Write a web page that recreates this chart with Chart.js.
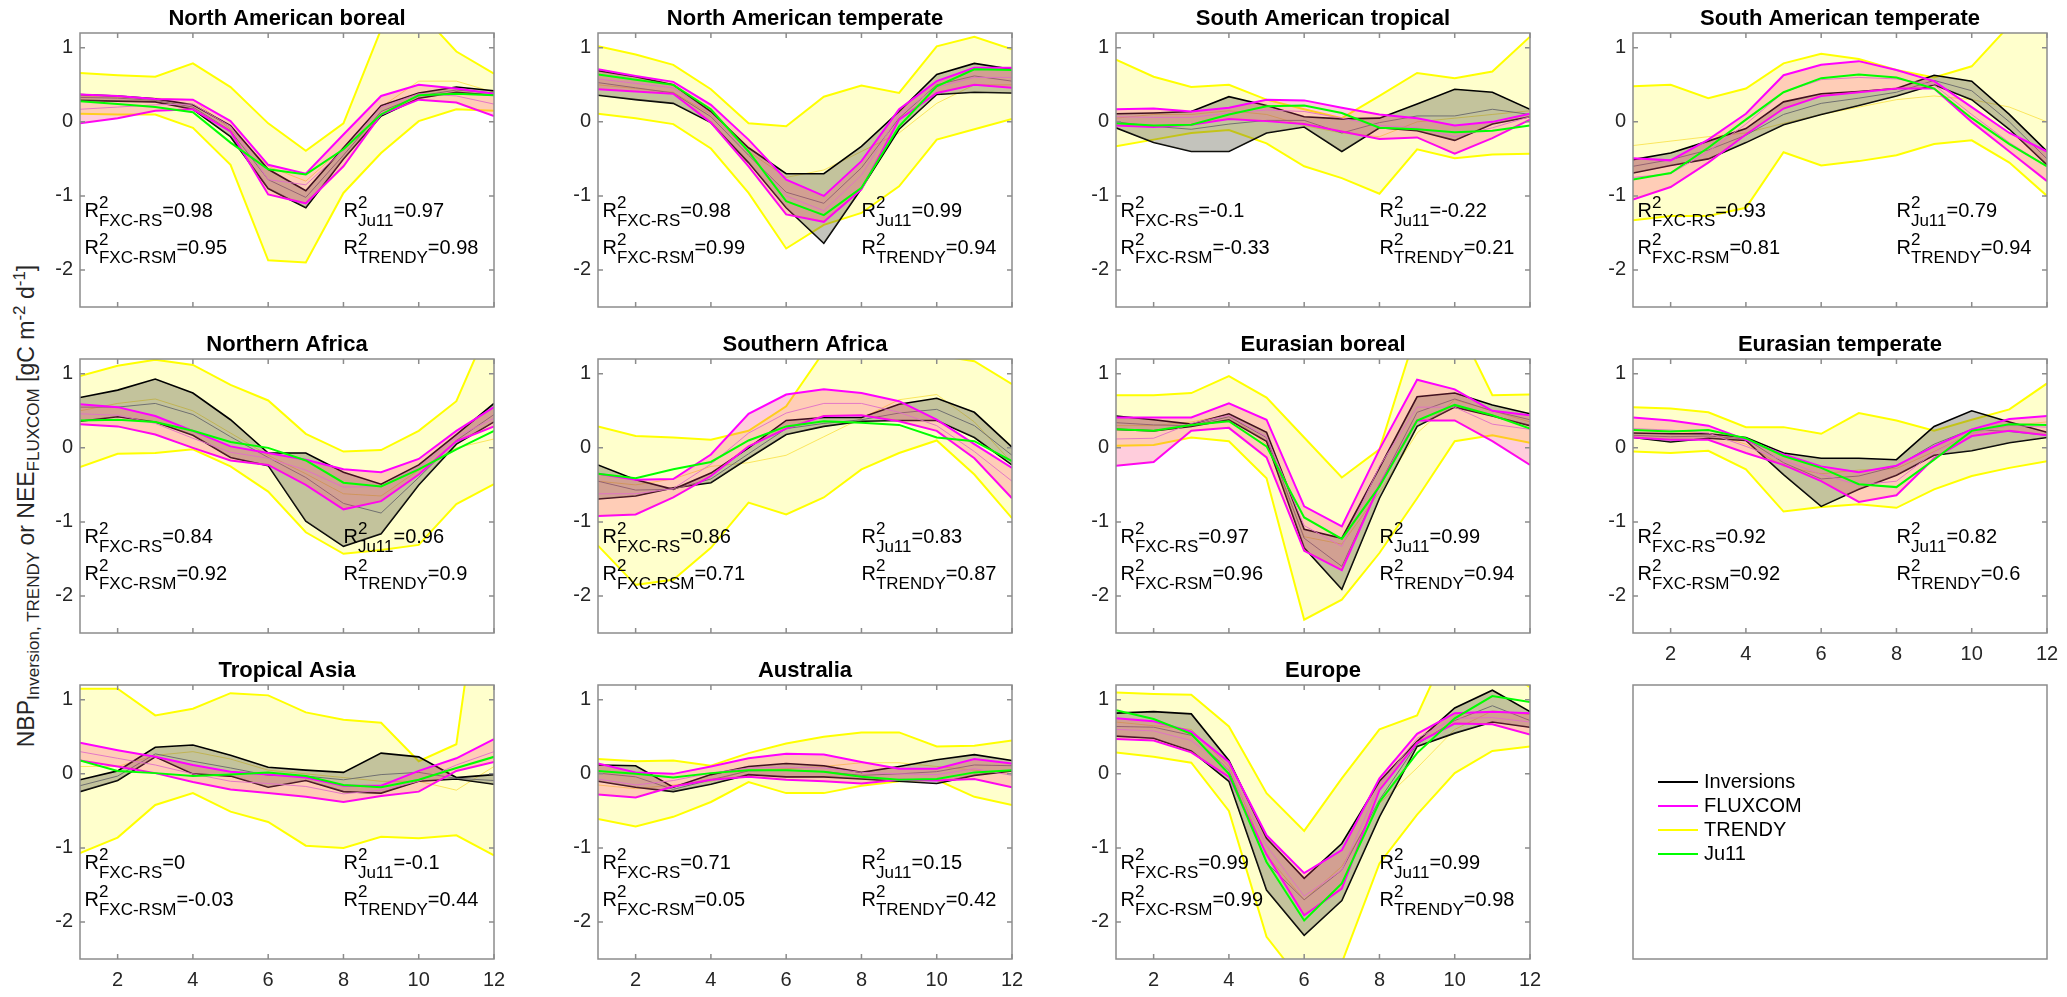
<!DOCTYPE html>
<html>
<head>
<meta charset="utf-8">
<script src="https://cdn.jsdelivr.net/npm/chart.js@4.4.0/dist/chart.umd.min.js"></script>
<style>
  html, body { margin: 0; padding: 0; background: #fff; }
  body { width: 2067px; height: 997px; position: relative; overflow: hidden; font-family: 'Liberation Sans', Arial, sans-serif; }
  canvas { position: absolute; }
  #ylabel { position: absolute; left: 27px; top: 506px; transform: translate(-50%, -50%) rotate(-90deg);
            white-space: nowrap; font-size: 23px; color: #262626; line-height: 26px; }
  #ylabel sub, #ylabel sup { font-size: 17px; }
</style>
</head>
<body>
<div id="ylabel">NBP<sub>Inversion, TRENDY</sub> or NEE<sub>FLUXCOM</sub> [gC m<sup>-2</sup> d<sup>-1</sup>]</div>
<script>
// ---- data (monthly mean fluxes, gC m-2 d-1) ----
const months = [1, 2, 3, 4, 5, 6, 7, 8, 9, 10, 11, 12];
const xTicks = [2, 4, 6, 8, 10, 12];
const yTicks = [-2, -1, 0, 1];

const regions = ['North American boreal', 'North American temperate', 'South American tropical', 'South American temperate',
                 'Northern Africa', 'Southern Africa', 'Eurasian boreal', 'Eurasian temperate',
                 'Tropical Asia', 'Australia', 'Europe'];

// Inversions spread (upper / lower) and mean
const invHi = [
  [0.37, 0.35, 0.31, 0.23, -0.05, -0.64, -0.93, -0.35, 0.22, 0.39, 0.47, 0.42],
  [0.69, 0.61, 0.50, 0.14, -0.35, -0.70, -0.70, -0.33, 0.14, 0.64, 0.79, 0.71],
  [0.11, 0.12, 0.14, 0.34, 0.22, 0.07, 0.04, 0.05, 0.24, 0.44, 0.40, 0.17],
  [-0.51, -0.42, -0.26, -0.09, 0.27, 0.38, 0.41, 0.45, 0.63, 0.55, 0.10, -0.40],
  [0.68, 0.78, 0.93, 0.74, 0.38, -0.07, -0.07, -0.33, -0.49, -0.23, 0.18, 0.60],
  [-0.23, -0.43, -0.56, -0.34, 0.00, 0.37, 0.41, 0.41, 0.59, 0.67, 0.48, 0.01],
  [0.43, 0.38, 0.32, 0.46, 0.21, -1.10, -1.22, -0.27, 0.69, 0.74, 0.58, 0.46],
  [0.20, 0.19, 0.19, 0.14, -0.07, -0.14, -0.14, -0.16, 0.29, 0.50, 0.35, 0.21],
  [-0.08, 0.04, 0.36, 0.39, 0.25, 0.09, 0.05, 0.02, 0.28, 0.23, -0.05, -0.01],
  [0.12, 0.11, -0.18, -0.01, 0.10, 0.14, 0.11, 0.02, 0.10, 0.19, 0.26, 0.18],
  [0.82, 0.84, 0.81, 0.18, -0.87, -1.41, -0.94, -0.10, 0.44, 0.89, 1.13, 0.84]
];
const invLo = [
  [0.29, 0.28, 0.27, 0.17, -0.20, -0.90, -1.16, -0.50, 0.08, 0.32, 0.40, 0.36],
  [0.36, 0.30, 0.25, -0.01, -0.55, -1.16, -1.64, -0.90, -0.10, 0.37, 0.40, 0.39],
  [-0.08, -0.28, -0.40, -0.40, -0.15, -0.07, -0.40, -0.08, -0.12, -0.25, -0.03, 0.07],
  [-0.69, -0.59, -0.50, -0.28, -0.04, 0.10, 0.22, 0.35, 0.50, 0.30, -0.10, -0.58],
  [0.36, 0.42, 0.35, 0.17, -0.13, -0.24, -0.99, -1.33, -1.16, -0.50, 0.05, 0.35],
  [-0.69, -0.65, -0.54, -0.47, -0.14, 0.18, 0.29, 0.36, 0.37, 0.37, 0.14, -0.23],
  [0.25, 0.23, 0.29, 0.38, 0.09, -1.35, -1.91, -0.68, 0.29, 0.55, 0.43, 0.30],
  [0.14, 0.08, 0.13, 0.10, -0.36, -0.79, -0.56, -0.37, -0.10, -0.04, 0.07, 0.14],
  [-0.24, -0.09, 0.23, 0.00, -0.03, -0.18, -0.09, -0.24, -0.26, -0.10, -0.07, -0.14],
  [-0.10, -0.18, -0.24, -0.14, -0.01, -0.04, -0.04, -0.07, -0.10, -0.13, -0.02, 0.04],
  [0.51, 0.48, 0.31, -0.10, -1.57, -2.18, -1.71, -0.58, 0.37, 0.55, 0.70, 0.63]
];
const invMean = [
  [0.33, 0.32, 0.29, 0.20, -0.12, -0.78, -1.02, -0.45, 0.14, 0.35, 0.43, 0.39],
  [0.53, 0.46, 0.39, 0.07, -0.45, -0.95, -1.10, -0.62, 0.05, 0.50, 0.62, 0.55],
  [0.00, -0.06, -0.10, -0.03, 0.02, 0.02, -0.15, -0.01, 0.08, 0.08, 0.17, 0.10],
  [-0.60, -0.51, -0.38, -0.18, 0.10, 0.25, 0.32, 0.40, 0.56, 0.42, 0.00, -0.50],
  [0.55, 0.55, 0.60, 0.45, 0.15, -0.13, -0.40, -0.75, -0.88, -0.40, 0.10, 0.45],
  [-0.45, -0.57, -0.56, -0.42, -0.08, 0.26, 0.33, 0.38, 0.47, 0.52, 0.30, -0.10],
  [0.34, 0.31, 0.30, 0.42, 0.14, -1.22, -1.60, -0.50, 0.48, 0.66, 0.50, 0.38],
  [0.17, 0.15, 0.16, 0.12, -0.20, -0.42, -0.38, -0.25, 0.05, 0.25, 0.22, 0.17],
  [-0.16, -0.03, 0.27, 0.17, 0.08, -0.02, -0.03, -0.08, -0.01, 0.02, -0.06, -0.09],
  [0.01, -0.04, -0.21, -0.08, 0.04, 0.05, 0.03, -0.02, 0.00, 0.03, 0.12, 0.11],
  [0.64, 0.63, 0.52, 0.05, -1.20, -1.70, -1.30, -0.35, 0.40, 0.72, 0.92, 0.72]
];

// FLUXCOM spread and mean
const fxHi = [
  [0.37, 0.35, 0.31, 0.30, 0.01, -0.58, -0.70, -0.17, 0.35, 0.50, 0.45, 0.38],
  [0.71, 0.62, 0.54, 0.23, -0.24, -0.78, -1.00, -0.53, 0.17, 0.55, 0.73, 0.73],
  [0.17, 0.18, 0.14, 0.19, 0.30, 0.29, 0.19, 0.10, 0.05, -0.05, 0.00, 0.11],
  [-0.49, -0.52, -0.24, 0.11, 0.63, 0.77, 0.82, 0.70, 0.55, 0.20, -0.15, -0.40],
  [0.59, 0.55, 0.43, 0.23, 0.02, -0.07, -0.16, -0.29, -0.33, -0.15, 0.23, 0.55],
  [-0.35, -0.43, -0.42, -0.09, 0.46, 0.72, 0.79, 0.74, 0.63, 0.38, 0.05, -0.27],
  [0.41, 0.41, 0.41, 0.60, 0.38, -0.79, -1.06, -0.02, 0.92, 0.79, 0.50, 0.44],
  [0.41, 0.37, 0.30, 0.11, -0.09, -0.25, -0.33, -0.24, 0.02, 0.25, 0.39, 0.43],
  [0.42, 0.32, 0.23, 0.12, 0.03, -0.01, -0.05, -0.16, -0.16, 0.04, 0.21, 0.47],
  [0.14, 0.02, 0.00, 0.10, 0.21, 0.27, 0.26, 0.16, 0.07, 0.07, 0.20, 0.14],
  [0.75, 0.71, 0.57, 0.16, -0.83, -1.34, -1.03, -0.06, 0.54, 0.82, 0.84, 0.82]
];
const fxLo = [
  [-0.02, 0.05, 0.15, 0.17, -0.13, -0.98, -1.10, -0.60, 0.10, 0.30, 0.26, 0.08],
  [0.44, 0.41, 0.38, -0.01, -0.60, -1.25, -1.35, -0.91, 0.03, 0.39, 0.50, 0.46],
  [-0.05, -0.07, -0.04, 0.04, 0.01, -0.03, -0.13, -0.23, -0.21, -0.43, -0.22, 0.03],
  [-1.05, -0.88, -0.55, -0.17, 0.18, 0.35, 0.40, 0.45, 0.45, 0.00, -0.40, -0.80],
  [0.32, 0.29, 0.18, 0.00, -0.17, -0.23, -0.50, -0.83, -0.72, -0.36, 0.09, 0.29],
  [-0.92, -0.90, -0.67, -0.38, 0.02, 0.26, 0.43, 0.44, 0.36, 0.23, -0.14, -0.68],
  [-0.24, -0.19, 0.23, 0.27, -0.13, -1.39, -1.65, -0.50, 0.37, 0.37, 0.09, -0.23],
  [0.14, 0.11, 0.11, -0.07, -0.23, -0.45, -0.73, -0.64, -0.14, 0.16, 0.23, 0.17],
  [0.18, 0.10, 0.01, -0.11, -0.21, -0.26, -0.31, -0.38, -0.30, -0.24, 0.04, 0.16],
  [-0.28, -0.32, -0.17, -0.08, -0.04, -0.08, -0.10, -0.13, -0.08, -0.09, -0.07, -0.18],
  [0.47, 0.45, 0.29, -0.04, -1.09, -1.91, -1.55, -0.22, 0.42, 0.68, 0.67, 0.53]
];
const fxMean = [
  [0.17, 0.20, 0.23, 0.24, -0.06, -0.78, -0.85, -0.38, 0.20, 0.38, 0.35, 0.24],
  [0.58, 0.52, 0.46, 0.11, -0.42, -1.00, -1.20, -0.72, 0.10, 0.47, 0.60, 0.60],
  [0.07, 0.06, 0.06, 0.12, 0.16, 0.14, 0.05, -0.05, -0.08, -0.20, -0.08, 0.07],
  [-0.75, -0.70, -0.40, -0.03, 0.40, 0.57, 0.60, 0.58, 0.50, 0.10, -0.28, -0.60],
  [0.46, 0.44, 0.33, 0.13, -0.06, -0.14, -0.30, -0.53, -0.52, -0.27, 0.15, 0.40],
  [-0.62, -0.62, -0.55, -0.22, 0.20, 0.47, 0.60, 0.60, 0.48, 0.30, -0.05, -0.45],
  [0.12, 0.13, 0.33, 0.44, 0.15, -1.05, -1.33, -0.25, 0.55, 0.55, 0.32, 0.25],
  [0.26, 0.24, 0.20, 0.02, -0.17, -0.36, -0.50, -0.45, -0.06, 0.20, 0.30, 0.28],
  [0.30, 0.21, 0.12, 0.00, -0.10, -0.13, -0.17, -0.27, -0.22, -0.10, 0.12, 0.30],
  [-0.07, -0.15, -0.09, 0.01, 0.08, 0.09, 0.08, 0.02, 0.00, -0.01, 0.07, -0.02],
  [0.60, 0.58, 0.45, 0.06, -0.97, -1.65, -1.30, -0.15, 0.48, 0.75, 0.76, 0.70]
];

// TRENDY spread and mean
const trHi = [
  [0.66, 0.63, 0.61, 0.79, 0.47, -0.02, -0.39, -0.02, 1.25, 1.50, 0.95, 0.65],
  [1.02, 0.91, 0.77, 0.44, -0.02, -0.06, 0.34, 0.49, 0.39, 1.02, 1.15, 0.98],
  [0.84, 0.61, 0.47, 0.50, 0.30, 0.17, 0.05, 0.35, 0.66, 0.59, 0.68, 1.15],
  [0.48, 0.50, 0.32, 0.45, 0.79, 0.92, 0.85, 0.70, 0.60, 0.75, 1.30, 1.30],
  [0.97, 1.11, 1.19, 1.12, 0.85, 0.64, 0.19, -0.05, -0.03, 0.23, 0.63, 1.80],
  [0.29, 0.16, 0.14, 0.11, 0.23, 0.56, 1.30, 1.35, 1.30, 1.25, 1.17, 0.86],
  [0.71, 0.71, 0.74, 0.97, 0.68, 0.14, -0.40, -0.02, 1.60, 1.75, 0.71, 0.72],
  [0.55, 0.53, 0.48, 0.28, 0.28, 0.19, 0.47, 0.37, 0.23, 0.38, 0.52, 0.87],
  [1.15, 1.15, 0.79, 0.88, 1.09, 1.06, 0.83, 0.73, 0.69, 0.17, 0.40, 4.00],
  [0.20, 0.17, 0.18, 0.11, 0.28, 0.41, 0.50, 0.56, 0.56, 0.37, 0.38, 0.45],
  [1.10, 1.08, 1.07, 0.64, -0.26, -0.77, -0.06, 0.60, 0.79, 1.90, 1.50, 1.17]
];
const trLo = [
  [0.11, 0.10, 0.10, -0.08, -0.58, -1.87, -1.90, -0.96, -0.42, 0.01, 0.17, 0.15],
  [0.11, 0.05, -0.03, -0.36, -0.96, -1.71, -1.39, -1.23, -0.87, -0.24, -0.10, 0.04],
  [-0.33, -0.24, -0.15, -0.11, -0.29, -0.60, -0.76, -0.97, -0.37, -0.49, -0.44, -0.43],
  [-1.33, -1.27, -1.27, -1.16, -0.41, -0.59, -0.53, -0.45, -0.30, -0.25, -0.55, -1.00],
  [-0.26, -0.08, -0.07, -0.02, -0.25, -0.59, -1.14, -1.43, -1.38, -1.31, -0.76, -0.49],
  [-1.32, -1.85, -1.78, -1.35, -0.74, -0.90, -0.67, -0.29, -0.07, 0.10, -0.36, -0.95],
  [0.03, 0.04, 0.14, 0.09, -0.41, -2.32, -2.05, -1.42, -0.68, 0.09, 0.17, 0.07],
  [-0.05, -0.07, -0.04, -0.29, -0.86, -0.80, -0.76, -0.81, -0.56, -0.38, -0.27, -0.18],
  [-1.07, -0.86, -0.42, -0.26, -0.51, -0.65, -0.97, -1.00, -0.85, -0.87, -0.83, -1.10],
  [-0.61, -0.71, -0.58, -0.38, -0.11, -0.26, -0.26, -0.16, -0.10, -0.08, -0.31, -0.42],
  [0.29, 0.23, 0.15, -0.50, -2.20, -2.85, -2.55, -1.21, -0.55, 0.01, 0.31, 0.37]
];
const trMean = [
  [0.35, 0.33, 0.32, 0.30, -0.10, -0.60, -0.80, -0.35, 0.20, 0.55, 0.55, 0.40],
  [0.50, 0.45, 0.40, 0.10, -0.40, -0.75, -0.65, -0.40, -0.15, 0.25, 0.50, 0.50],
  [0.05, 0.10, 0.10, 0.15, 0.10, -0.05, -0.15, -0.20, 0.00, 0.05, 0.10, 0.15],
  [-0.32, -0.26, -0.20, -0.15, -0.02, 0.10, 0.20, 0.30, 0.35, 0.30, 0.20, 0.00],
  [0.50, 0.60, 0.66, 0.50, 0.20, -0.10, -0.35, -0.62, -0.65, -0.30, 0.00, 0.12],
  [-0.45, -0.50, -0.42, -0.25, -0.20, -0.10, 0.15, 0.40, 0.65, 0.72, 0.35, -0.20],
  [0.30, 0.30, 0.35, 0.45, 0.05, -1.20, -1.30, -0.60, 0.20, 0.65, 0.50, 0.35],
  [0.25, 0.22, 0.20, 0.05, -0.25, -0.35, -0.30, -0.28, -0.05, 0.20, 0.30, 0.35],
  [0.10, 0.10, 0.25, 0.30, 0.20, 0.05, 0.00, -0.05, -0.10, -0.10, -0.22, 0.10],
  [-0.15, -0.20, -0.15, -0.10, 0.05, 0.07, 0.10, 0.15, 0.15, 0.10, 0.05, 0.00],
  [0.70, 0.65, 0.60, 0.10, -1.10, -1.70, -1.25, -0.40, 0.08, 0.60, 0.85, 0.80]
];

// Jung et al. 2011
const ju11 = [
  [0.28, 0.24, 0.20, 0.13, -0.28, -0.64, -0.71, -0.37, 0.10, 0.36, 0.38, 0.36],
  [0.64, 0.57, 0.50, 0.17, -0.40, -1.07, -1.26, -0.89, -0.06, 0.48, 0.71, 0.70],
  [-0.02, -0.05, -0.04, 0.10, 0.21, 0.22, 0.12, -0.08, -0.10, -0.14, -0.12, -0.05],
  [-0.78, -0.69, -0.35, 0.03, 0.40, 0.59, 0.64, 0.60, 0.45, 0.05, -0.30, -0.60],
  [0.37, 0.38, 0.35, 0.23, 0.08, 0.00, -0.17, -0.47, -0.52, -0.29, -0.02, 0.23],
  [-0.35, -0.41, -0.29, -0.19, 0.10, 0.29, 0.36, 0.34, 0.31, 0.14, 0.09, -0.18],
  [0.25, 0.23, 0.31, 0.36, 0.02, -0.94, -1.23, -0.52, 0.37, 0.58, 0.44, 0.26],
  [0.24, 0.22, 0.24, 0.13, -0.11, -0.27, -0.49, -0.53, -0.16, 0.23, 0.32, 0.31],
  [0.18, 0.04, 0.01, -0.03, -0.01, 0.02, -0.03, -0.15, -0.18, -0.08, 0.08, 0.23],
  [0.04, 0.00, -0.05, 0.01, 0.05, 0.05, 0.03, -0.04, -0.08, -0.07, 0.02, 0.05],
  [0.86, 0.74, 0.54, 0.00, -1.19, -1.98, -1.48, -0.38, 0.28, 0.75, 1.05, 0.97]
];

// R2 scores shown in each panel
const r2FxcRs   = ['0.98', '0.98', '-0.1', '0.93', '0.84', '0.86', '0.97', '0.92', '0', '0.71', '0.99'];
const r2FxcRsm  = ['0.95', '0.99', '-0.33', '0.81', '0.92', '0.71', '0.96', '0.92', '-0.03', '0.05', '0.99'];
const r2Ju11    = ['0.97', '0.99', '-0.22', '0.79', '0.96', '0.83', '0.99', '0.82', '-0.1', '0.15', '0.99'];
const r2Trendy  = ['0.98', '0.94', '0.21', '0.94', '0.9', '0.87', '0.94', '0.6', '0.44', '0.42', '0.98'];

const legendNames = ['Inversions', 'FLUXCOM', 'TRENDY', 'Ju11'];

// ---- styling / layout ----
const FONT = "'Liberation Sans', Arial, Helvetica, sans-serif";
const YEL = '#ffff00', MAG = '#ff00ff', GRN = '#00ff00', BLK = '#000000';
const TR_FILL = 'rgba(255,255,0,0.2)';
const INV_FILL = 'rgba(90,90,70,0.36)';
const FX_FILL = 'rgba(255,60,120,0.26)';
const INV_MEAN = '#707070', FX_MEAN = 'rgba(225,110,200,0.9)', TR_MEAN = 'rgba(245,210,0,0.55)';
const FRAME = '#8c8c8c';
const legendColors = [BLK, MAG, YEL, GRN];

const colLeft = [80, 598, 1116, 1633];
const rowTop = [33, 359, 685];
const plotW = 414, plotH = 274;
const padL = 52, padR = 14, padT = 33;

const pts = arr => months.map((m, j) => ({ x: m, y: arr[j] }));

function line(data, color, width, extra) {
    return Object.assign({
        data: pts(data), borderColor: color, borderWidth: width,
        pointRadius: 0, tension: 0, fill: false, clip: 0
    }, extra);
}

// R^2 with stacked superscript / subscript, like the TeX interpreter
function drawR2(ctx, x, y, sub, val) {
    ctx.font = '20px ' + FONT;
    ctx.fillText('R', x, y);
    const w = ctx.measureText('R').width;
    ctx.font = '17px ' + FONT;
    const sw = ctx.measureText('2').width;
    const bw = ctx.measureText(sub).width;
    ctx.fillText('2', x + w, y - 9);
    ctx.fillText(sub, x + w, y + 9);
    ctx.font = '20px ' + FONT;
    ctx.fillText('=' + val, x + w + Math.max(sw, bw), y);
}

function makeDecor(i) {
    return {
        id: 'decor',
        afterDatasetsDraw(chart) {
            const { ctx, chartArea: a, scales: { x, y } } = chart;
            ctx.save();
            // box with inward ticks
            ctx.strokeStyle = FRAME;
            ctx.lineWidth = 1.5;
            ctx.strokeRect(a.left, a.top, a.right - a.left, a.bottom - a.top);
            ctx.beginPath();
            xTicks.forEach(v => {
                const px = x.getPixelForValue(v);
                ctx.moveTo(px, a.bottom); ctx.lineTo(px, a.bottom - 5);
                ctx.moveTo(px, a.top); ctx.lineTo(px, a.top + 5);
            });
            yTicks.forEach(v => {
                const py = y.getPixelForValue(v);
                ctx.moveTo(a.left, py); ctx.lineTo(a.left + 5, py);
                ctx.moveTo(a.right, py); ctx.lineTo(a.right - 5, py);
            });
            ctx.stroke();

            // title
            ctx.fillStyle = '#000';
            ctx.textBaseline = 'alphabetic';
            ctx.textAlign = 'center';
            ctx.font = 'bold 22px ' + FONT;
            ctx.fillText(regions[i], (a.left + a.right) / 2, a.top - 8);

            // R2 annotations
            ctx.textAlign = 'left';
            const xl = x.getPixelForValue(1.12), xr = x.getPixelForValue(8.0);
            const y1 = y.getPixelForValue(-1.29), y2 = y.getPixelForValue(-1.78);
            drawR2(ctx, xl, y1, 'FXC-RS', r2FxcRs[i]);
            drawR2(ctx, xl, y2, 'FXC-RSM', r2FxcRsm[i]);
            drawR2(ctx, xr, y1, 'Ju11', r2Ju11[i]);
            drawR2(ctx, xr, y2, 'TRENDY', r2Trendy[i]);
            ctx.restore();
        }
    };
}

function makePanel(i) {
    const col = i % 4, row = Math.floor(i / 4);
    const bottom = row === 2 || i === 7;
    const xh = bottom ? 42 : 4;

    const canvas = document.createElement('canvas');
    canvas.width = padL + plotW + padR;
    canvas.height = padT + plotH + xh;
    canvas.style.left = (colLeft[col] - padL) + 'px';
    canvas.style.top = (rowTop[row] - padT) + 'px';
    document.body.appendChild(canvas);

    const tickFont = { family: FONT, size: 20 };

    new Chart(canvas.getContext('2d'), {
        type: 'line',
        data: {
            datasets: [
                line(trHi[i], YEL, 2, { fill: '+1', backgroundColor: TR_FILL, order: 10 }),
                line(trLo[i], YEL, 2, { order: 10 }),
                line(trMean[i], TR_MEAN, 1, { order: 9 }),
                line(invHi[i], BLK, 1.6, { fill: '+1', backgroundColor: INV_FILL, order: 8 }),
                line(invLo[i], BLK, 1.6, { order: 8 }),
                line(invMean[i], INV_MEAN, 1, { order: 7 }),
                line(fxHi[i], MAG, 2, { fill: '+1', backgroundColor: FX_FILL, order: 6 }),
                line(fxLo[i], MAG, 2, { order: 6 }),
                line(fxMean[i], FX_MEAN, 1, { order: 5 }),
                line(ju11[i], GRN, 2, { order: 4 })
            ]
        },
        options: {
            responsive: false,
            animation: false,
            events: [],
            layout: { padding: { left: 0, right: padR, top: padT, bottom: 0 } },
            plugins: {
                legend: { display: false },
                tooltip: { enabled: false }
            },
            scales: {
                x: {
                    type: 'linear', min: 1, max: 12,
                    afterBuildTicks: s => { s.ticks = xTicks.map(v => ({ value: v })); },
                    afterFit: s => { s.height = xh; s.paddingLeft = 0; s.paddingRight = 0; },
                    grid: { display: false, drawTicks: false },
                    border: { display: false },
                    ticks: { display: bottom, padding: 9, color: '#262626', font: tickFont, maxRotation: 0, autoSkip: false }
                },
                y: {
                    min: -2.5, max: 1.2,
                    afterBuildTicks: s => { s.ticks = yTicks.map(v => ({ value: v })); },
                    afterFit: s => { s.width = padL; s.paddingTop = 0; s.paddingBottom = 0; },
                    grid: { display: false, drawTicks: false },
                    border: { display: false },
                    ticks: { padding: 7, color: '#262626', font: tickFont, autoSkip: false }
                }
            }
        },
        plugins: [makeDecor(i)]
    });
}

regions.forEach((r, i) => makePanel(i));

// ---- legend box in the last grid cell ----
const legendBox = {
    id: 'legendBox',
    afterDraw(chart) {
        const { ctx, chartArea: a } = chart;
        ctx.save();
        ctx.strokeStyle = FRAME;
        ctx.lineWidth = 1.5;
        ctx.strokeRect(a.left, a.top, a.right - a.left, a.bottom - a.top);
        ctx.font = '20px ' + FONT;
        ctx.textAlign = 'left';
        ctx.textBaseline = 'middle';
        chart.data.datasets.forEach((d, k) => {
            const yy = a.top + 97 + k * 24;
            ctx.strokeStyle = d.borderColor;
            ctx.lineWidth = 2;
            ctx.beginPath();
            ctx.moveTo(a.left + 25, yy);
            ctx.lineTo(a.left + 65, yy);
            ctx.stroke();
            ctx.fillStyle = '#000';
            ctx.fillText(d.label, a.left + 71, yy);
        });
        ctx.restore();
    }
};

const lc = document.createElement('canvas');
lc.width = plotW + 4;
lc.height = plotH + 4;
lc.style.left = (colLeft[3] - 2) + 'px';
lc.style.top = (rowTop[2] - 2) + 'px';
document.body.appendChild(lc);

new Chart(lc.getContext('2d'), {
    type: 'line',
    data: {
        datasets: legendNames.map((name, k) => ({ label: name, data: [], borderColor: legendColors[k] }))
    },
    options: {
        responsive: false,
        animation: false,
        events: [],
        layout: { padding: 2 },
        plugins: { legend: { display: false }, tooltip: { enabled: false } },
        scales: { x: { display: false }, y: { display: false } }
    },
    plugins: [legendBox]
});
</script>
</body>
</html>
